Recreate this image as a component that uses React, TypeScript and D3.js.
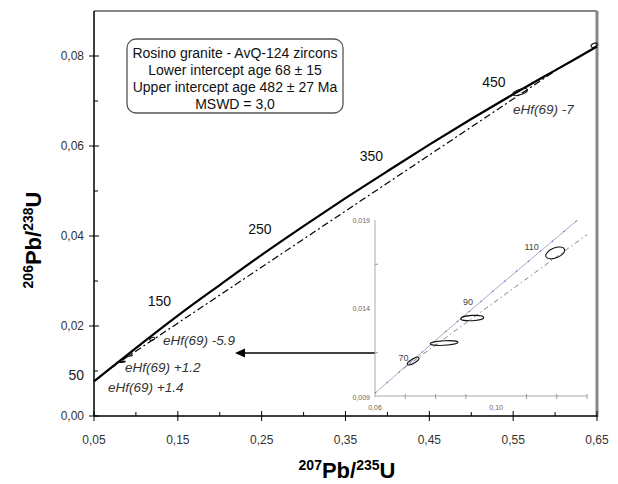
import React from "react";
import * as d3 from "d3";

// concordia: 207Pb/235U, 206Pb/238U
const concX = [0.05, 0.1, 0.15, 0.2, 0.25, 0.3, 0.35, 0.4, 0.45, 0.5, 0.55, 0.6, 0.65];
const concY = [0.0077, 0.0151, 0.0223, 0.0291, 0.0358, 0.0422, 0.0484, 0.0544, 0.0603, 0.066, 0.0715, 0.0768, 0.0821];

// concordia age marks (Ma) and their ratios
const ageLabels = ["50", "150", "250", "350", "450"];
const ageX = [0.0505, 0.159, 0.279, 0.412, 0.558];
const ageY = [0.0078, 0.0235, 0.0395, 0.0558, 0.0723];

// discordia: lower intercept 68 Ma, upper intercept 482 Ma
const discX = [0.0693, 0.6075];
const discY = [0.0106, 0.0776];

// inset concordia
const insetConcX = [0.06, 0.07, 0.08, 0.09, 0.1, 0.11, 0.12, 0.1269];
const insetConcY = [0.00922, 0.01071, 0.0122, 0.01367, 0.01513, 0.01657, 0.01801, 0.019];
const insetAgeLabels = ["70", "90", "110"];
const insetAgeX = [0.0714, 0.0927, 0.1144];
const insetAgeY = [0.01092, 0.01406, 0.01721];
const insetDiscX = [0.0693, 0.13];
const insetDiscY = [0.0106, 0.01817];

// zircon analyses: centre and half-widths of the error ellipses
const spotX = [0.0726, 0.0828, 0.0921, 0.1195, 0.5584, 0.6467];
const spotY = [0.01103, 0.01205, 0.01346, 0.01714, 0.072, 0.0824];
const spotSX = [0.0022, 0.0046, 0.0038, 0.0033, 0.009, 0.004];
const spotSY = [0.00012, 0.00013, 0.00015, 0.00028, 0.0006, 0.0004];
const spotRot = [-30, -3, -3, -22, -18, -25];

const xTickValues = [0.05, 0.15, 0.25, 0.35, 0.45, 0.55, 0.65];
const xMinorValues = [0.1, 0.2, 0.3, 0.4, 0.5, 0.6];
const yTickValues = [0, 0.02, 0.04, 0.06, 0.08];
const yMinorValues = [0.01, 0.03, 0.05, 0.07];
const insetXTicks = [0.06, 0.1];
const insetXMinor = [0.07, 0.08, 0.09, 0.11, 0.12, 0.13];
const insetYTicks = [0.009, 0.014, 0.019];
const insetYMinor = [0.0115, 0.0165];

const boxLines = [
  "Rosino granite - AvQ-124 zircons",
  "Lower intercept age 68 ± 15",
  "Upper intercept age 482 ± 27 Ma",
  "MSWD = 3,0",
];

const FONT = "'Liberation Sans', Arial, sans-serif";
const comma = (f: string) => (v: number) => d3.format(f)(v).replace(".", ",");

export default function App() {
  const x = d3.scaleLinear().domain([0.05, 0.65]).range([94, 597]);
  const y = d3.scaleLinear().domain([0, 0.09]).range([416, 11]);
  const xi = d3.scaleLinear().domain([0.06, 0.13]).range([375, 587]);
  const yi = d3.scaleLinear().domain([0.009, 0.019]).range([397, 220]);

  const conc = d3
    .line<number>()
    .x((_, i) => x(concX[i]))
    .y((_, i) => y(concY[i]))
    .curve(d3.curveCatmullRom);
  const insetConc = d3
    .line<number>()
    .x((_, i) => xi(insetConcX[i]))
    .y((_, i) => yi(insetConcY[i]))
    .curve(d3.curveCatmullRom);

  const f2 = comma(".2f");
  const f3 = comma(".3f");

  const ellipse = (i: number, sx: any, sy: any, key: string) => {
    const cx = sx(spotX[i]);
    const cy = sy(spotY[i]);
    return (
      <ellipse
        key={key}
        cx={cx}
        cy={cy}
        rx={Math.abs(sx(spotX[i] + spotSX[i]) - cx)}
        ry={Math.abs(sy(spotY[i] + spotSY[i]) - cy)}
        transform={`rotate(${spotRot[i]} ${cx} ${cy})`}
        fill="none"
        stroke="#111"
        strokeWidth={1.1}
      />
    );
  };

  return (
    <svg
      width={618}
      height={484}
      style={{ position: "absolute", left: 0, top: 0, background: "#fff" }}
      fontFamily={FONT}
    >
      {/* frame */}
      <line x1={94} x2={597} y1={11} y2={11} stroke="#111" strokeWidth={1} />
      <line x1={597} x2={597} y1={11} y2={417} stroke="#888" strokeWidth={3} />

      {/* x axis */}
      <line x1={94} x2={597} y1={416} y2={416} stroke="#000" strokeWidth={1.5} />
      {xTickValues.map((v) => (
        <g key={"xt" + v}>
          <line x1={x(v)} x2={x(v)} y1={411} y2={421} stroke="#000" strokeWidth={1} />
          <text x={x(v)} y={444} textAnchor="middle" fontSize={12} fill="#333">
            {f2(v)}
          </text>
        </g>
      ))}
      {xMinorValues.map((v) => (
        <line key={"xm" + v} x1={x(v)} x2={x(v)} y1={412} y2={416} stroke="#000" strokeWidth={1} />
      ))}

      {/* y axis */}
      <line x1={94} x2={94} y1={11} y2={416} stroke="#000" strokeWidth={1.5} />
      {yTickValues.map((v) => (
        <g key={"yt" + v}>
          <line x1={89} x2={99} y1={y(v)} y2={y(v)} stroke="#000" strokeWidth={1} />
          <text x={84} y={y(v) + 4} textAnchor="end" fontSize={12} fill="#333">
            {f2(v)}
          </text>
        </g>
      ))}
      {yMinorValues.map((v) => (
        <line key={"ym" + v} x1={94} x2={98} y1={y(v)} y2={y(v)} stroke="#000" strokeWidth={1} />
      ))}

      {/* axis titles */}
      <text x={347} y={478} textAnchor="middle" fontWeight="bold" fontSize={22} fill="#000">
        <tspan fontSize={14} dy={-8}>207</tspan>
        <tspan dy={8}>Pb/</tspan>
        <tspan fontSize={14} dy={-8}>235</tspan>
        <tspan dy={8}>U</tspan>
      </text>
      <text
        transform="translate(41,240) rotate(-90)"
        textAnchor="middle"
        fontWeight="bold"
        fontSize={22}
        fill="#000"
      >
        <tspan fontSize={14} dy={-8}>206</tspan>
        <tspan dy={8}>Pb/</tspan>
        <tspan fontSize={14} dy={-8}>238</tspan>
        <tspan dy={8}>U</tspan>
      </text>

      {/* concordia and discordia */}
      <path d={conc(concX) || ""} fill="none" stroke="#000" strokeWidth={2.2} />
      <line
        x1={x(discX[0])}
        y1={y(discY[0])}
        x2={x(discX[1])}
        y2={y(discY[1])}
        stroke="#000"
        strokeWidth={1.2}
        strokeDasharray="7,3,2,3"
      />
      {ageLabels.map((a, i) =>
        i === 0 ? (
          <text key={a} x={84} y={y(ageY[i]) - 1} textAnchor="end" fontSize={14} fill="#222">
            {a}
          </text>
        ) : (
          <text key={a} x={x(ageX[i]) - 26} y={y(ageY[i]) - 4} textAnchor="middle" fontSize={14} fill="#111">
            {a}
          </text>
        )
      )}
      {spotX.map((_, i) => ellipse(i, x, y, "m" + i))}

      {/* annotations */}
      <g fontStyle="italic" fontSize={13.5} fill="#333">
        <text x={163} y={345}>eHf(69) -5.9</text>
        <text x={125} y={372}>eHf(69) +1.2</text>
        <text x={108} y={392}>eHf(69) +1.4</text>
        <text x={513} y={114}>eHf(69) -7</text>
      </g>

      {/* text box */}
      <rect x={127} y={39} width={216} height={74} rx={9} fill="#fff" stroke="#555" strokeWidth={1.3} />
      {boxLines.map((t, i) => (
        <text key={t} x={235} y={58 + i * 17} textAnchor="middle" fontSize={14} fill="#111">
          {t}
        </text>
      ))}

      {/* arrow to inset */}
      <line x1={375} x2={243} y1={353} y2={353} stroke="#000" strokeWidth={1.6} />
      <path d="M235,353 L245,348.5 L245,357.5 Z" fill="#000" />

      {/* inset */}
      <line x1={375} x2={375} y1={220} y2={397} stroke="#aaa" strokeWidth={1} />
      <line x1={375} x2={587} y1={396} y2={396} stroke="#aaa" strokeWidth={1} />
      {insetYTicks.map((v) => (
        <text key={"iy" + v} x={370} y={yi(v) + 2.5} textAnchor="end" fontSize={7} fill="#666">
          {f3(v)}
        </text>
      ))}
      {insetYMinor.map((v) => (
        <line key={"iym" + v} x1={375} x2={378} y1={yi(v)} y2={yi(v)} stroke="#999" />
      ))}
      {insetXTicks.map((v) => (
        <text key={"ix" + v} x={xi(v)} y={410} textAnchor="middle" fontSize={7} fill="#666">
          {f2(v)}
        </text>
      ))}
      {insetXMinor.map((v) => (
        <line key={"ixm" + v} x1={xi(v)} x2={xi(v)} y1={394} y2={399} stroke="#999" />
      ))}
      <path d={insetConc(insetConcX) || ""} fill="none" stroke="#a8acbf" strokeWidth={1} />
      <path
        d={insetConc(insetConcX) || ""}
        fill="none"
        stroke="#6a76d8"
        strokeWidth={1.2}
        strokeDasharray="1.5,14"
      />
      <line
        x1={xi(insetDiscX[0])}
        y1={yi(insetDiscY[0])}
        x2={xi(insetDiscX[1])}
        y2={yi(insetDiscY[1])}
        stroke="#777"
        strokeWidth={0.9}
        strokeDasharray="5,3,1.5,3"
      />
      {insetAgeLabels.map((a, i) => (
        <text key={a} x={xi(insetAgeX[i]) - 1} y={yi(insetAgeY[i]) - 2} textAnchor="end" fontSize={9} fill="#444">
          {a}
        </text>
      ))}
      {[0, 1, 2, 3].map((i) => ellipse(i, xi, yi, "i" + i))}
    </svg>
  );
}
